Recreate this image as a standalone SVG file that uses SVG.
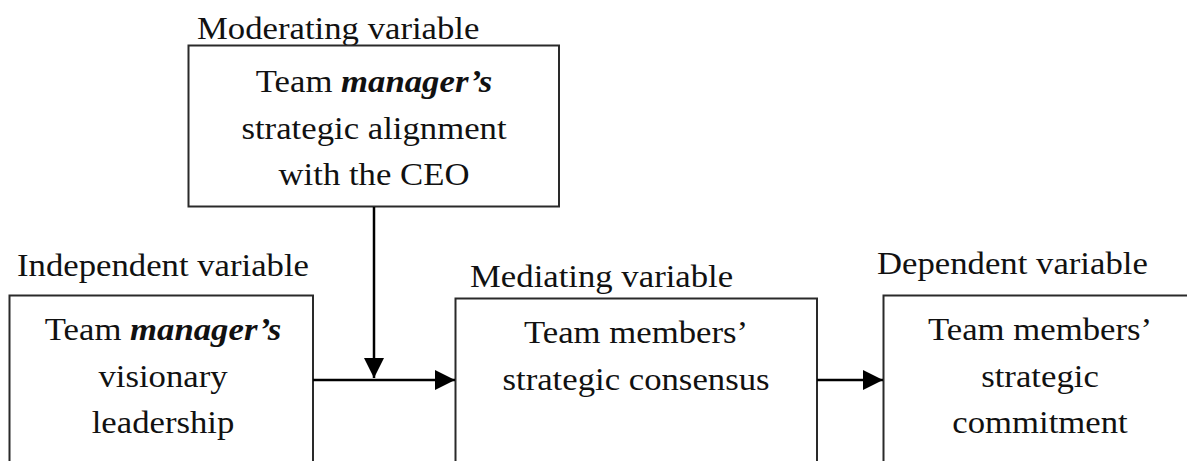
<svg xmlns="http://www.w3.org/2000/svg" width="1187" height="461" viewBox="0 0 1187 461">
  <style>
    .box { fill: #ffffff; stroke: #2a2a2a; stroke-width: 2; }
    .txt { font-family: "Liberation Serif", "Times New Roman", serif; font-size: 31px; fill: #111111; }
    .lbl { font-family: "Liberation Serif", "Times New Roman", serif; font-size: 31px; fill: #111111; }
    .em { font-weight: bold; font-style: italic; }
    .conn { stroke: #000000; stroke-width: 2.5; fill: none; }
  </style>
  <defs>
    <marker id="arrow" markerUnits="userSpaceOnUse" markerWidth="20" markerHeight="20" viewBox="0 0 18 18" refX="18" refY="9" orient="auto">
      <path d="M0,0 L18,9 L0,18 Z" fill="#000000"/>
    </marker>
  </defs>

  <rect width="1187" height="461" fill="#ffffff"/>

  <!-- Moderating variable -->
  <g id="moderator">
    <text class="lbl" transform="translate(197,39) scale(1.12,1)">Moderating variable</text>
    <rect class="box" x="188.5" y="45.5" width="370.5" height="161"/>
    <text class="txt" text-anchor="middle" transform="translate(374,92) scale(1.12,1)">Team <tspan class="em">manager’s</tspan></text>
    <text class="txt" text-anchor="middle" transform="translate(374,139) scale(1.12,1)">strategic alignment</text>
    <text class="txt" text-anchor="middle" transform="translate(374,185) scale(1.12,1)">with the CEO</text>
  </g>

  <!-- Independent variable -->
  <g id="independent">
    <text class="lbl" transform="translate(17,276) scale(1.12,1)">Independent variable</text>
    <rect class="box" x="9.5" y="295.5" width="303.5" height="190"/>
    <text class="txt" text-anchor="middle" transform="translate(163,340) scale(1.12,1)">Team <tspan class="em">manager’s</tspan></text>
    <text class="txt" text-anchor="middle" transform="translate(163,387) scale(1.12,1)">visionary</text>
    <text class="txt" text-anchor="middle" transform="translate(163,433) scale(1.12,1)">leadership</text>
  </g>

  <!-- Mediating variable -->
  <g id="mediator">
    <text class="lbl" transform="translate(470,287) scale(1.12,1)">Mediating variable</text>
    <rect class="box" x="455.5" y="298.5" width="361.5" height="190"/>
    <text class="txt" text-anchor="middle" transform="translate(636,343) scale(1.12,1)">Team members’</text>
    <text class="txt" text-anchor="middle" transform="translate(636,390) scale(1.12,1)">strategic consensus</text>
  </g>

  <!-- Dependent variable -->
  <g id="dependent">
    <text class="lbl" transform="translate(877,274) scale(1.12,1)">Dependent variable</text>
    <rect class="box" x="883.5" y="295.5" width="314" height="190"/>
    <text class="txt" text-anchor="middle" transform="translate(1040,340) scale(1.12,1)">Team members’</text>
    <text class="txt" text-anchor="middle" transform="translate(1040,387) scale(1.12,1)">strategic</text>
    <text class="txt" text-anchor="middle" transform="translate(1040,433) scale(1.12,1)">commitment</text>
  </g>

  <!-- Connectors -->
  <g id="connectors">
    <line class="conn" x1="374" y1="207" x2="374" y2="378" marker-end="url(#arrow)"/>
    <line class="conn" x1="313" y1="380" x2="455" y2="380" marker-end="url(#arrow)"/>
    <line class="conn" x1="817" y1="380" x2="883" y2="380" marker-end="url(#arrow)"/>
  </g>
</svg>
